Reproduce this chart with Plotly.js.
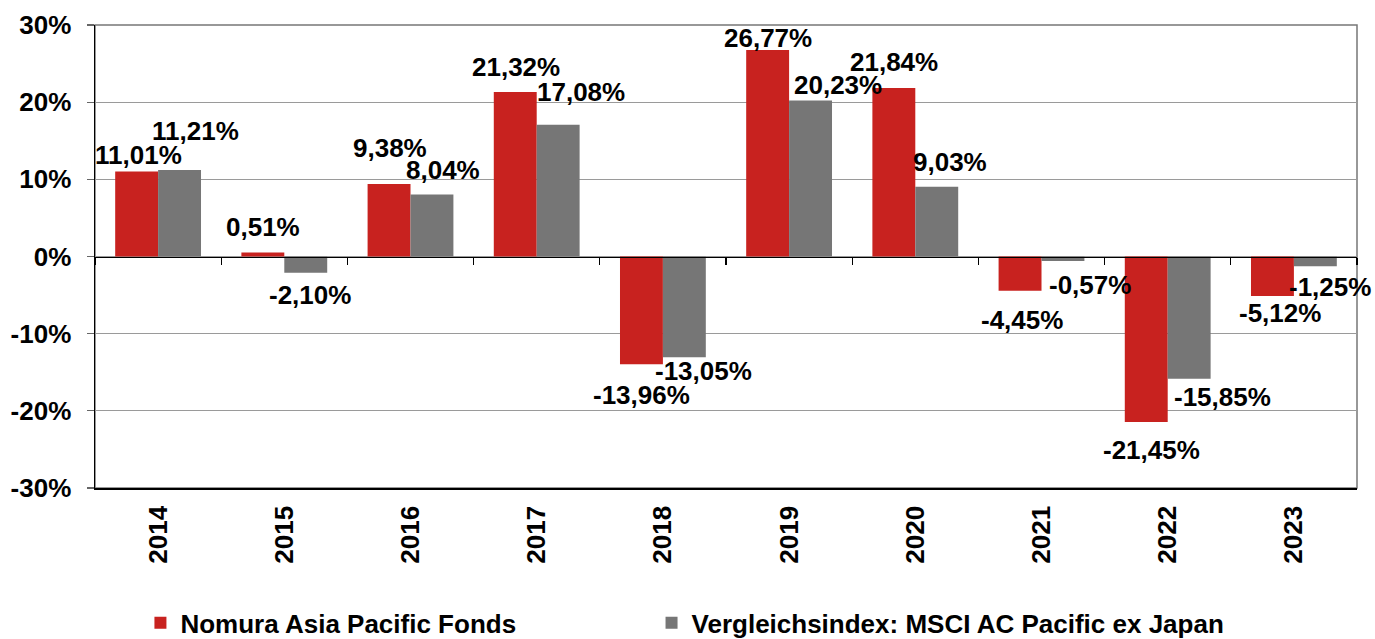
<!DOCTYPE html>
<html>
<head>
<meta charset="utf-8">
<script src="https://cdn.plot.ly/plotly-3.0.1.min.js"></script>
<style>
html,body{margin:0;padding:0;background:#fff;}
#chart{width:1375px;height:639px;}
</style>
</head>
<body>
<div id="chart"></div>
<script>
// ---- data ----
const years = ['2014','2015','2016','2017','2018','2019','2020','2021','2022','2023'];
const fundName = 'Nomura Asia Pacific Fonds';
const indexName = 'Vergleichsindex: MSCI AC Pacific ex Japan';
const fundValues = [11.01, 0.51, 9.38, 21.32, -13.96, 26.77, 21.84, -4.45, -21.45, -5.12];
const indexValues = [11.21, -2.10, 8.04, 17.08, -13.05, 20.23, 9.03, -0.57, -15.85, -1.25];
const yTicks = [-30, -20, -10, 0, 10, 20, 30];

// ---- label nudges (px), mimicking the hand-placed labels of the source ----
const fundLabelDx = [-20, -21, -21, -21, -21, -21, -21, -20, -16, -14];
const fundLabelDy = [17, 26, 36, 25, -31, 12, 26, -29, -28, -17];
const indexLabelDx = [37, 26, 32, 44, 41, 49, 35, 48, 55, 36];
const indexLabelDy = [39, -22, 24, 33, -14, 15, 25, -24, -18, -21];

const RED = '#C8221F';
const GREY = '#767676';
const FONT = 'Liberation Sans, Arial, sans-serif';

function fmt(v) { return v.toFixed(2).replace('.', ',') + '%'; }

const traces = [
  {type:'bar', name:fundName, x:years, y:fundValues, marker:{color:RED},
   hoverinfo:'skip', legend:'legend'},
  {type:'bar', name:indexName, x:years, y:indexValues, marker:{color:GREY},
   hoverinfo:'skip', legend:'legend2'},
  {type:'scatter', mode:'markers', x:years, y:years.map(() => 0), xaxis:'x2',
   marker:{opacity:0}, showlegend:false, hoverinfo:'skip'}
];

const annotations = [];
years.forEach((yr, i) => {
  annotations.push({x:i, y:fundValues[i], xref:'x', yref:'y', text:'<b>' + fmt(fundValues[i]) + '</b>',
    showarrow:false, xanchor:'center', yanchor:'middle',
    xshift:fundLabelDx[i], yshift:fundLabelDy[i],
    font:{family:FONT, size:26, color:'#000'}});
  annotations.push({x:i, y:indexValues[i], xref:'x', yref:'y', text:'<b>' + fmt(indexValues[i]) + '</b>',
    showarrow:false, xanchor:'center', yanchor:'middle',
    xshift:indexLabelDx[i], yshift:indexLabelDy[i],
    font:{family:FONT, size:26, color:'#000'}});
});

const legendFont = {family:FONT, size:26, color:'#000', weight:700};
const layout = {
  width:1375, height:639,
  margin:{l:95, r:18, t:25, b:151, pad:0, autoexpand:false},
  paper_bgcolor:'#fff', plot_bgcolor:'#fff',
  font:{family:FONT, size:26, color:'#000', weight:700},
  barmode:'group', bargap:0.32, bargroupgap:0,
  showlegend:true,
  legend:{orientation:'h', x:0.036, y:-0.291, xanchor:'left', yanchor:'middle',
    font:legendFont, bgcolor:'rgba(0,0,0,0)'},
  legend2:{orientation:'h', x:0.441, y:-0.291, xanchor:'left', yanchor:'middle',
    font:legendFont, bgcolor:'rgba(0,0,0,0)'},
  xaxis:{type:'category', range:[-0.5, 9.5], showgrid:false, zeroline:false,
    showline:true, linecolor:'#000', linewidth:1.5, ticks:'',
    tickangle:-90, ticklabelstandoff:6,
    tickfont:{family:FONT, size:26, color:'#000', weight:700}, fixedrange:true},
  xaxis2:{type:'category', overlaying:'x', anchor:'free', position:0.5,
    range:[-0.5, 9.5], showgrid:false, zeroline:false, showticklabels:false,
    showline:true, linecolor:'#000', linewidth:1.3,
    ticks:'outside', tickson:'boundaries', ticklen:7, tickcolor:'#000', tickwidth:1.3,
    fixedrange:true},
  yaxis:{range:[-30, 30], tickmode:'array', tickvals:yTicks,
    ticktext:yTicks.map(v => v + '%'),
    showgrid:true, gridcolor:'#9a9a9a', gridwidth:1.2, zeroline:false,
    showline:true, linecolor:'#000', linewidth:1.5,
    ticks:'outside', ticklen:7, tickcolor:'#666', tickwidth:1.3,
    ticklabelstandoff:10,
    tickfont:{family:FONT, size:26, color:'#000', weight:700}, fixedrange:true},
  shapes:[{type:'rect', xref:'paper', yref:'paper', x0:0, x1:1, y0:0, y1:1,
    line:{color:'#777', width:1.5}, layer:'below'}],
  annotations:annotations
};

Plotly.newPlot('chart', traces, layout, {displayModeBar:false, staticPlot:true});
</script>
</body>
</html>
